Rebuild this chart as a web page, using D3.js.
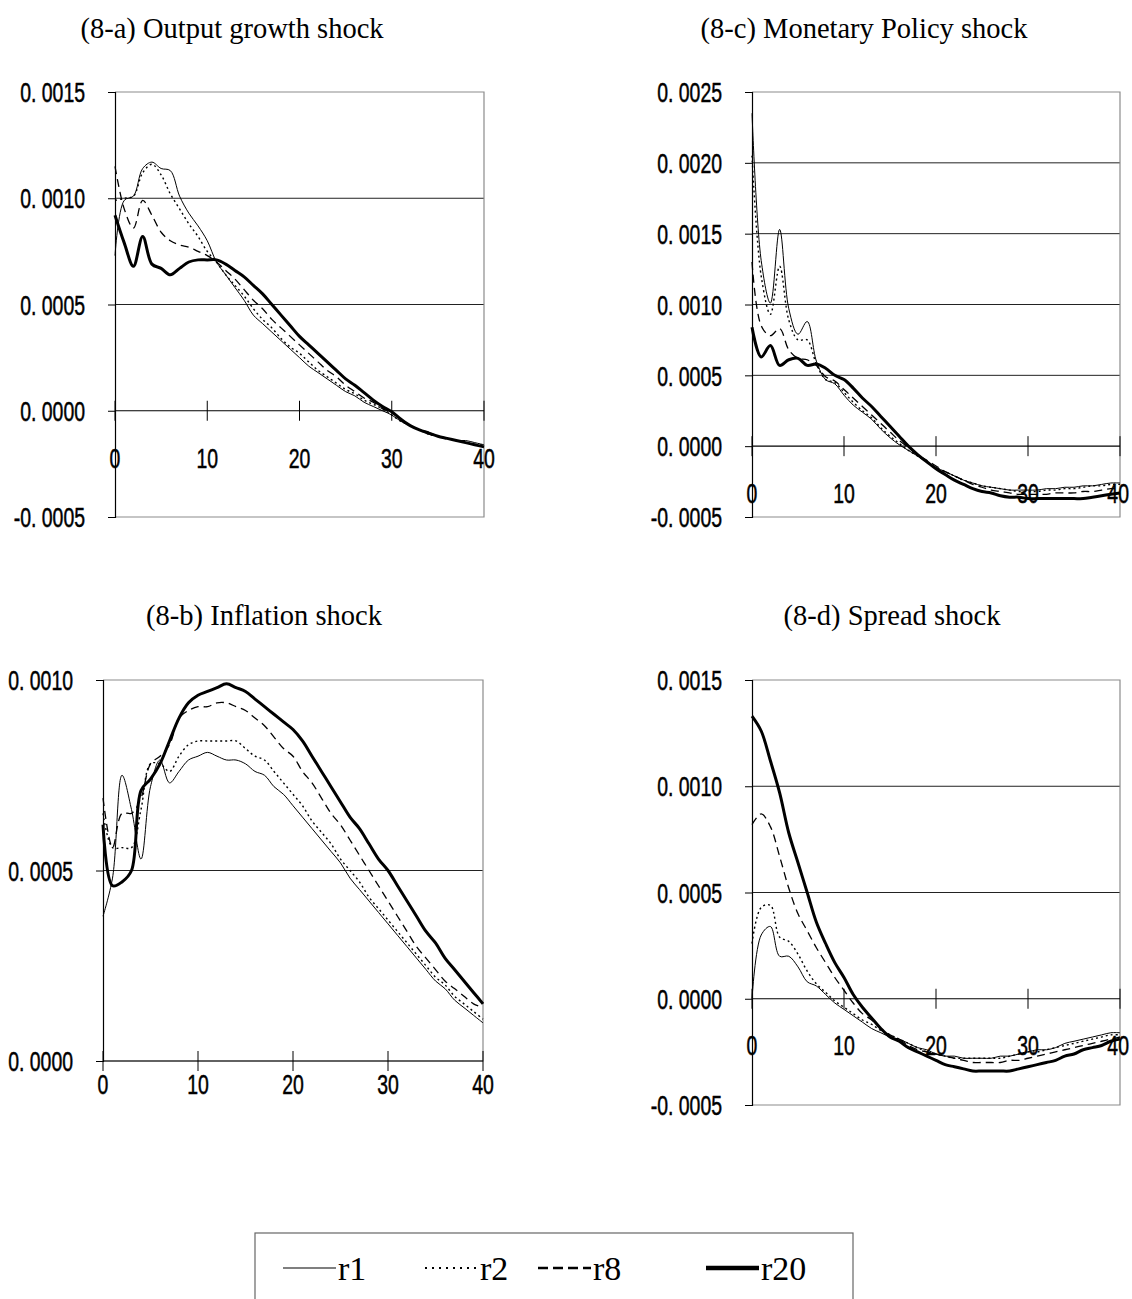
<!DOCTYPE html>
<html>
<head>
<meta charset="utf-8">
<script src="https://cdn.jsdelivr.net/npm/d3@7"></script>
<style>
  body { margin: 0; background: #fff; }
  svg { display: block; }
  .title { font-family: "Liberation Serif", "Times New Roman", serif; font-size: 28.5px; fill: #000; }
  .legend-text { font-family: "Liberation Serif", "Times New Roman", serif; font-size: 34px; fill: #000; }
  .tick-label { font-family: "Liberation Sans", Arial, sans-serif; font-size: 27px; fill: #000; stroke: #000; stroke-width: 0.5px; }
</style>
</head>
<body>
<div id="chart"></div>
<script>
// periods 0..40
const periods = d3.range(0, 41);
const xTicks = [0, 10, 20, 30, 40];
const seriesNames = ["r1", "r2", "r8", "r20"];

// (8-a) Output growth shock
const outputR1 = [0.00073, 0.00099, 0.00101, 0.00114, 0.00117, 0.00114, 0.00113, 0.00101, 0.00093, 0.00087, 0.00080, 0.00070, 0.00064, 0.00058, 0.00052, 0.00045, 0.00041, 0.00037, 0.00033, 0.00029, 0.00025, 0.00021, 0.00018, 0.00015, 0.00012, 0.00009, 0.00007, 0.00004, 0.00002, 0.00000, -0.00002, -0.00005, -0.00007, -0.00009, -0.00010, -0.00012, -0.00013, -0.00014, -0.00014, -0.00015, -0.00016];
const outputR2 = [0.00099, 0.00100, 0.00101, 0.00112, 0.00116, 0.00111, 0.00102, 0.00095, 0.00088, 0.00082, 0.00075, 0.00070, 0.00064, 0.00059, 0.00054, 0.00048, 0.00043, 0.00039, 0.00034, 0.00030, 0.00027, 0.00023, 0.00019, 0.00016, 0.00013, 0.00010, 0.00008, 0.00005, 0.00003, 0.00001, -0.00002, -0.00005, -0.00007, -0.00009, -0.00011, -0.00012, -0.00013, -0.00014, -0.00015, -0.00016, -0.00016];
const outputR8 = [0.00115, 0.00095, 0.00086, 0.00099, 0.00092, 0.00084, 0.00080, 0.00078, 0.00077, 0.00075, 0.00073, 0.00070, 0.00066, 0.00062, 0.00057, 0.00052, 0.00048, 0.00043, 0.00039, 0.00035, 0.00031, 0.00027, 0.00023, 0.00019, 0.00016, 0.00012, 0.00009, 0.00006, 0.00004, 0.00001, -0.00001, -0.00004, -0.00007, -0.00009, -0.00011, -0.00012, -0.00013, -0.00014, -0.00015, -0.00016, -0.00017];
const outputR20 = [0.00092, 0.00079, 0.00068, 0.00082, 0.00069, 0.00067, 0.00064, 0.00067, 0.00070, 0.00071, 0.00071, 0.00071, 0.00069, 0.00066, 0.00063, 0.00059, 0.00055, 0.00050, 0.00045, 0.00040, 0.00035, 0.00031, 0.00027, 0.00023, 0.00019, 0.00015, 0.00012, 0.000085, 0.00005, 0.00002, -0.000005, -0.00004, -0.00007, -0.00009, -0.000105, -0.00012, -0.00013, -0.00014, -0.00015, -0.00016, -0.00017];

// (8-c) Monetary Policy shock
const monetaryR1 = [0.00235, 0.00131, 0.00101, 0.00153, 0.00097, 0.00079, 0.00088, 0.00060, 0.00047, 0.00044, 0.00036, 0.00029, 0.00024, 0.00019, 0.00012, 0.00006, 0.00001, -0.00003, -0.00007, -0.00011, -0.00015, -0.00018, -0.00021, -0.00024, -0.00026, -0.00028, -0.00029, -0.00030, -0.00031, -0.00031, -0.00031, -0.00031, -0.00030, -0.00030, -0.00029, -0.00029, -0.00028, -0.00028, -0.00027, -0.00026, -0.00026];
const monetaryR2 = [0.00205, 0.00120, 0.00093, 0.00127, 0.00089, 0.00075, 0.00075, 0.00058, 0.00047, 0.00045, 0.00038, 0.00031, 0.00025, 0.00020, 0.00013, 0.00007, 0.00002, -0.00003, -0.00007, -0.00011, -0.00015, -0.00018, -0.00021, -0.00024, -0.00026, -0.00028, -0.00029, -0.00030, -0.00031, -0.00032, -0.00032, -0.00032, -0.00031, -0.00031, -0.00030, -0.00030, -0.00029, -0.00028, -0.00028, -0.00027, -0.00027];
const monetaryR8 = [0.00130, 0.00085, 0.00078, 0.00083, 0.00068, 0.00062, 0.00061, 0.00057, 0.00049, 0.00046, 0.00040, 0.00034, 0.00028, 0.00022, 0.00016, 0.00010, 0.00004, -0.00001, -0.00006, -0.00010, -0.00014, -0.00018, -0.00021, -0.00024, -0.00027, -0.00029, -0.00031, -0.00032, -0.00033, -0.00034, -0.00034, -0.00034, -0.00034, -0.00033, -0.00033, -0.00033, -0.00032, -0.00032, -0.00031, -0.00030, -0.00030];
const monetaryR20 = [0.00084, 0.00063, 0.00071, 0.00057, 0.00061, 0.00062, 0.00057, 0.00058, 0.00055, 0.00050, 0.00047, 0.00041, 0.00034, 0.00028, 0.00021, 0.00014, 0.00007, 0.00000, -0.00006, -0.00011, -0.00016, -0.00020, -0.00024, -0.00027, -0.00030, -0.00032, -0.00033, -0.00035, -0.00036, -0.00036, -0.00037, -0.00037, -0.00037, -0.00037, -0.00037, -0.00037, -0.00037, -0.00036, -0.00035, -0.00034, -0.00033];

// (8-b) Inflation shock
const inflationR1 = [0.00038, 0.00048, 0.00075, 0.00066, 0.00053, 0.00072, 0.00079, 0.00073, 0.00076, 0.00079, 0.00080, 0.00081, 0.00080, 0.00079, 0.00079, 0.00078, 0.00076, 0.00075, 0.00072, 0.00070, 0.00067, 0.00064, 0.00061, 0.00058, 0.00055, 0.00052, 0.00048, 0.00045, 0.00042, 0.00039, 0.00036, 0.00033, 0.00030, 0.00027, 0.00024, 0.00021, 0.00019, 0.00016, 0.00014, 0.00012, 0.00010];
const inflationR2 = [0.00065, 0.00056, 0.00056, 0.00056, 0.00066, 0.00078, 0.00078, 0.00076, 0.00080, 0.00083, 0.00084, 0.00084, 0.00084, 0.00084, 0.00084, 0.00082, 0.00080, 0.00079, 0.00076, 0.00073, 0.00070, 0.00067, 0.00063, 0.00060, 0.00057, 0.00053, 0.00050, 0.00047, 0.00043, 0.00040, 0.00037, 0.00034, 0.00031, 0.00028, 0.00025, 0.00022, 0.00020, 0.00017, 0.00015, 0.00013, 0.00011];
const inflationR8 = [0.00069, 0.00056, 0.00065, 0.00065, 0.00069, 0.00078, 0.00080, 0.00083, 0.00090, 0.00092, 0.00093, 0.00093, 0.00094, 0.00094, 0.00093, 0.00092, 0.00090, 0.00088, 0.00085, 0.00082, 0.00080, 0.00076, 0.00073, 0.00069, 0.00065, 0.00062, 0.00058, 0.00054, 0.00050, 0.00046, 0.00042, 0.00038, 0.00034, 0.00030, 0.00027, 0.00024, 0.00021, 0.00019, 0.00017, 0.00015, 0.00014];
const inflationR20 = [0.00062, 0.00046, 0.00047, 0.00050, 0.00071, 0.00074, 0.00078, 0.00084, 0.00090, 0.00094, 0.00096, 0.00097, 0.00098, 0.00099, 0.00098, 0.00097, 0.00095, 0.00093, 0.00091, 0.00089, 0.00087, 0.00084, 0.00080, 0.00076, 0.00072, 0.00068, 0.00064, 0.00061, 0.00057, 0.00053, 0.00050, 0.00046, 0.00042, 0.00038, 0.00034, 0.00031, 0.00027, 0.00024, 0.00021, 0.00018, 0.00015];

// (8-d) Spread shock
const spreadR1 = [0.00000, 0.00030, 0.00034, 0.00020, 0.00020, 0.00015, 0.00008, 0.00006, 0.00002, -0.00002, -0.00005, -0.00008, -0.00011, -0.00014, -0.00016, -0.00018, -0.00019, -0.00021, -0.00023, -0.00024, -0.00026, -0.00027, -0.00027, -0.00028, -0.00028, -0.00028, -0.00028, -0.00027, -0.00027, -0.00026, -0.00025, -0.00024, -0.00024, -0.00023, -0.00021, -0.00020, -0.00019, -0.00018, -0.00017, -0.00016, -0.00016];
const spreadR2 = [0.00026, 0.00043, 0.00044, 0.00029, 0.00027, 0.00021, 0.00013, 0.00007, 0.00003, -0.00001, -0.00004, -0.00007, -0.00010, -0.00012, -0.00015, -0.00017, -0.00019, -0.00021, -0.00023, -0.00025, -0.00026, -0.00027, -0.00028, -0.00028, -0.00028, -0.00028, -0.00028, -0.00028, -0.00027, -0.00026, -0.00025, -0.00025, -0.00024, -0.00023, -0.00022, -0.00021, -0.00020, -0.00019, -0.00018, -0.00017, -0.00017];
const spreadR8 = [0.00082, 0.00087, 0.00081, 0.00067, 0.00052, 0.00040, 0.00032, 0.00024, 0.00017, 0.00010, 0.00004, -0.00002, -0.00007, -0.00010, -0.00014, -0.00017, -0.00019, -0.00022, -0.00024, -0.00025, -0.00026, -0.00027, -0.00028, -0.00029, -0.00030, -0.00030, -0.00030, -0.00030, -0.00029, -0.00029, -0.00028, -0.00027, -0.00026, -0.00025, -0.00024, -0.00023, -0.00022, -0.00021, -0.00020, -0.00019, -0.00018];
const spreadR20 = [0.00133, 0.00126, 0.00112, 0.00097, 0.00078, 0.00064, 0.00050, 0.00036, 0.00026, 0.00017, 0.00010, 0.00002, -0.00004, -0.00009, -0.00014, -0.00018, -0.00020, -0.00023, -0.00025, -0.00027, -0.00029, -0.00031, -0.00032, -0.00033, -0.00034, -0.00034, -0.00034, -0.00034, -0.00034, -0.00033, -0.00032, -0.00031, -0.00030, -0.00029, -0.00027, -0.00026, -0.00024, -0.00023, -0.00022, -0.00020, -0.00019];

// y tick values per panel
const outputTicks = [-0.0005, 0, 0.0005, 0.0010, 0.0015];
const monetaryTicks = [-0.0005, 0, 0.0005, 0.0010, 0.0015, 0.0020, 0.0025];
const inflationTicks = [0, 0.0005, 0.0010];
const spreadTicks = [-0.0005, 0, 0.0005, 0.0010, 0.0015];

// line styles for r1, r2, r8, r20
const lineStyles = {
  r1:  { width: 1,   dash: null },
  r2:  { width: 1.4, dash: "2,3" },
  r8:  { width: 1.3, dash: "8,5" },
  r20: { width: 3,   dash: null }
};
const legendStyles = {
  r1:  { width: 1.2, dash: null },
  r2:  { width: 2,   dash: "2,5" },
  r8:  { width: 2.4, dash: "10,5" },
  r20: { width: 4.5, dash: null }
};

const svg = d3.select("#chart").append("svg")
  .attr("width", 1132)
  .attr("height", 1299);

// format like "0. 0015" / "-0. 0005"
function yLabel(v) {
  const s = Math.abs(v).toFixed(4).replace(".", ". ");
  return (v < 0 ? "-" : "") + s;
}

function drawPanel(cfg) {
  const x = d3.scaleLinear().domain([0, 40]).range([cfg.left, cfg.right]);
  const y = d3.scaleLinear().domain(d3.extent(cfg.yTicks)).range([cfg.bottom, cfg.top]);
  const g = svg.append("g");

  // title
  g.append("text").attr("class", "title")
    .attr("x", cfg.titleX).attr("y", cfg.titleY)
    .attr("text-anchor", "middle")
    .text(cfg.title);

  // gridlines (inner)
  const inner = cfg.yTicks.filter(v => v !== 0 && v !== d3.min(cfg.yTicks) && v !== d3.max(cfg.yTicks));
  g.selectAll(".grid").data(inner).enter().append("line")
    .attr("x1", cfg.left).attr("x2", cfg.right)
    .attr("y1", d => y(d)).attr("y2", d => y(d))
    .attr("stroke", "#222").attr("stroke-width", 1);

  // plot border (top, right, bottom) in gray
  g.append("path")
    .attr("d", `M${cfg.left},${y.range()[1]}H${cfg.right}V${y.range()[0]}H${cfg.left}`)
    .attr("fill", "none").attr("stroke", "#8c8c8c").attr("stroke-width", 1.2);

  // y axis
  const yAxis = d3.axisLeft(y).tickValues(cfg.yTicks).tickSize(7).tickFormat(yLabel);
  const ya = g.append("g").attr("transform", `translate(${cfg.left},0)`).call(yAxis);
  ya.attr("font-family", null).attr("font-size", null);
  ya.select(".domain").attr("stroke", "#000").attr("stroke-width", 1.2);
  ya.selectAll(".tick line").attr("stroke", "#000");
  ya.selectAll(".tick text").attr("class", "tick-label")
    .attr("x", -30).attr("dy", "0.36em");

  // x axis along zero line, ticks crossing it
  const y0 = y(0);
  g.append("line")
    .attr("x1", cfg.left).attr("x2", cfg.right)
    .attr("y1", y0).attr("y2", y0)
    .attr("stroke", "#000").attr("stroke-width", 1.2);
  g.selectAll(".xtick").data(xTicks).enter().append("line")
    .attr("x1", d => x(d)).attr("x2", d => x(d))
    .attr("y1", y0 - 10).attr("y2", y0 + 10)
    .attr("stroke", "#000").attr("stroke-width", 1);
  g.selectAll(".xlabel").data(xTicks).enter().append("text")
    .attr("class", "tick-label xlabel")
    .attr("x", d => x(d)).attr("y", y0 + cfg.xLabelOffset)
    .attr("dy", "0.36em")
    .attr("text-anchor", "middle")
    .text(d => d);

  // series
  const line = d3.line()
    .x((d, i) => x(periods[i]))
    .y(d => y(d))
    .curve(d3.curveCatmullRom.alpha(0.5));

  seriesNames.forEach((name, k) => {
    const st = lineStyles[name];
    g.append("path")
      .datum(cfg.series[k])
      .attr("d", line)
      .attr("fill", "none")
      .attr("stroke", "#000")
      .attr("stroke-width", st.width)
      .attr("stroke-dasharray", st.dash)
      .attr("stroke-linejoin", "round");
  });
}

drawPanel({
  title: "(8-a) Output growth shock", titleX: 232, titleY: 38,
  left: 115, right: 484, top: 92, bottom: 517, xLabelOffset: 48,
  yTicks: outputTicks,
  series: [outputR1, outputR2, outputR8, outputR20]
});

drawPanel({
  title: "(8-c) Monetary Policy shock", titleX: 864, titleY: 38,
  left: 752, right: 1120, top: 92, bottom: 517, xLabelOffset: 47,
  yTicks: monetaryTicks,
  series: [monetaryR1, monetaryR2, monetaryR8, monetaryR20]
});

drawPanel({
  title: "(8-b) Inflation shock", titleX: 264, titleY: 625,
  left: 103, right: 483, top: 680, bottom: 1061, xLabelOffset: 23,
  yTicks: inflationTicks,
  series: [inflationR1, inflationR2, inflationR8, inflationR20]
});

drawPanel({
  title: "(8-d) Spread shock", titleX: 892, titleY: 625,
  left: 752, right: 1120, top: 680, bottom: 1105, xLabelOffset: 47,
  yTicks: spreadTicks,
  series: [spreadR1, spreadR2, spreadR8, spreadR20]
});

// narrow tick font: squeeze the glyphs horizontally
svg.selectAll(".tick-label").each(function () {
  const w = this.getComputedTextLength();
  d3.select(this).attr("textLength", w * 0.72).attr("lengthAdjust", "spacingAndGlyphs");
});

// keep the right-most x labels inside the page
svg.selectAll(".xlabel").each(function () {
  const b = this.getBBox();
  const over = b.x + b.width - 1129;
  if (over > 0) d3.select(this).attr("x", +d3.select(this).attr("x") - over);
});

// legend
const legend = svg.append("g");
legend.append("rect")
  .attr("x", 255).attr("y", 1233)
  .attr("width", 598).attr("height", 100)
  .attr("fill", "#fff").attr("stroke", "#666").attr("stroke-width", 1.2);

const legendX = [283, 425, 538, 706];
seriesNames.forEach((name, k) => {
  const st = legendStyles[name];
  legend.append("line")
    .attr("x1", legendX[k]).attr("x2", legendX[k] + 53)
    .attr("y1", 1268).attr("y2", 1268)
    .attr("stroke", "#000")
    .attr("stroke-width", st.width)
    .attr("stroke-dasharray", st.dash);
  legend.append("text").attr("class", "legend-text")
    .attr("x", legendX[k] + 55).attr("y", 1280)
    .text(name);
});
</script>
</body>
</html>
